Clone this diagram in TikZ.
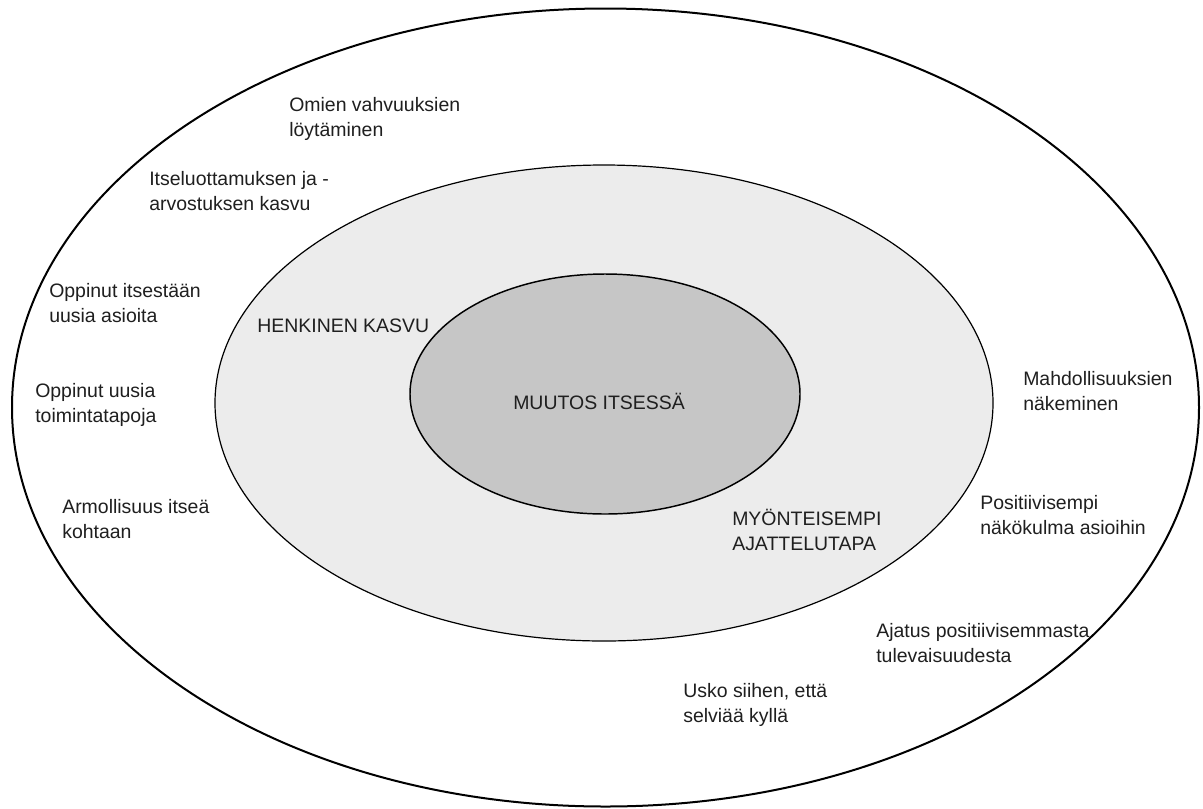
\documentclass[tikz,border=0pt]{standalone}
\usepackage{fontspec}
\setmainfont{Liberation Sans}
\begin{document}
\begin{tikzpicture}[x=0.75pt,y=-0.75pt,
  lbl/.style={anchor=base west, inner sep=0pt, text=black!88,
    font=\fontsize{14.6}{19.1}\selectfont},
  outerring/.style={draw=black, line width=1.5pt, fill=white},
  middlering/.style={draw=black, line width=0.9pt, fill=gray!15},
  innerring/.style={draw=black, line width=1.1pt, fill=gray!45}]
\useasboundingbox (0,0) rectangle (1203,808);
\draw[outerring] (605.5,407.5) ellipse [x radius=445.125pt, y radius=299.25pt];
\draw[middlering] (604,403) ellipse [x radius=291.75pt, y radius=178.5pt];
\draw[innerring] (605,394) ellipse [x radius=146.25pt, y radius=90pt];
\newcommand{\twolines}[2]{\begin{tabular}[t]{@{}l@{}}#1\\#2\end{tabular}}
\node[lbl] (t1) at (289,111) {\twolines{Omien vahvuuksien}{löytäminen}};
\node[lbl] (t2) at (149,185) {\twolines{Itseluottamuksen ja -}{arvostuksen kasvu}};
\node[lbl] (t3) at (49,297) {\twolines{Oppinut itsestään}{uusia asioita}};
\node[lbl] (t4) at (35,397) {\twolines{Oppinut uusia}{toimintatapoja}};
\node[lbl] (t5) at (62,513) {\twolines{Armollisuus itseä}{kohtaan}};
\node[lbl] (t6) at (257,332) {HENKINEN KASVU};
\node[lbl] (t7) at (513,409) {MUUTOS ITSESSÄ};
\node[lbl] (t8) at (732,525) {\twolines{MYÖNTEISEMPI}{AJATTELUTAPA}};
\node[lbl] (t9) at (1023,385) {\twolines{Mahdollisuuksien}{näkeminen}};
\node[lbl] (t10) at (980,509) {\twolines{Positiivisempi}{näkökulma asioihin}};
\node[lbl] (t11) at (876,637) {\twolines{Ajatus positiivisemmasta}{tulevaisuudesta}};
\node[lbl] (t12) at (683,697) {\twolines{Usko siihen, että}{selviää kyllä}};
\end{tikzpicture}
\end{document}
